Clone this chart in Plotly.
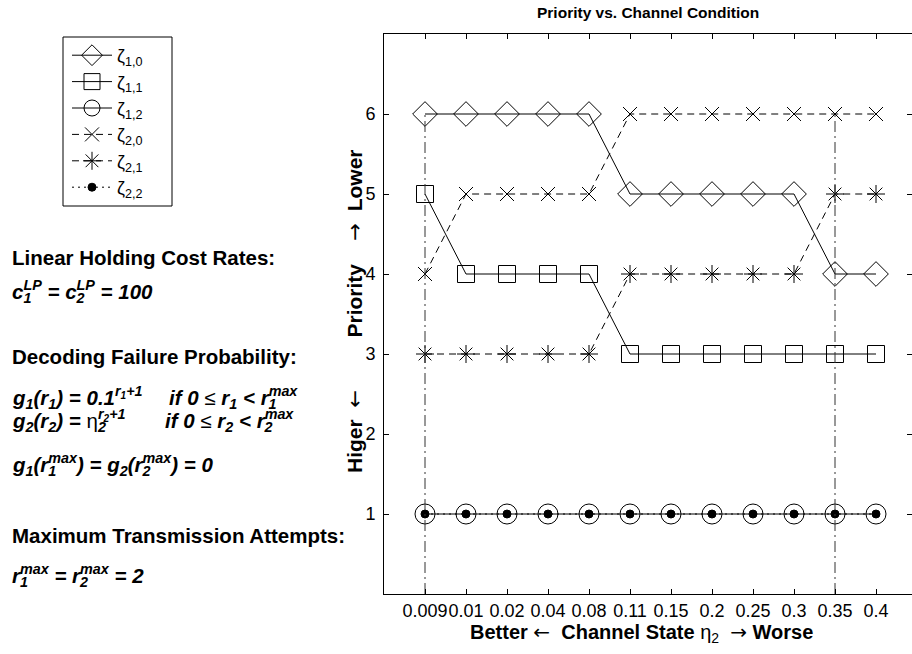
import plotly.graph_objects as go

# ---- data -------------------------------------------------------------
channel_states = ['0.009', '0.01', '0.02', '0.04', '0.08', '0.11',
                  '0.15', '0.2', '0.25', '0.3', '0.35', '0.4']

zeta_1_0 = [6, 6, 6, 6, 6, 5, 5, 5, 5, 5, 4, 4]
zeta_1_1 = [5, 4, 4, 4, 4, 3, 3, 3, 3, 3, 3, 3]
zeta_1_2 = [1, 1, 1, 1, 1, 1, 1, 1, 1, 1, 1, 1]
zeta_2_0 = [4, 5, 5, 5, 5, 6, 6, 6, 6, 6, 6, 6]
zeta_2_1 = [3, 3, 3, 3, 3, 4, 4, 4, 4, 4, 5, 5]
zeta_2_2 = [1, 1, 1, 1, 1, 1, 1, 1, 1, 1, 1, 1]

series_names = ['ζ<sub>1,0</sub>', 'ζ<sub>1,1</sub>', 'ζ<sub>1,2</sub>',
                'ζ<sub>2,0</sub>', 'ζ<sub>2,1</sub>', 'ζ<sub>2,2</sub>']

switch_states = ['0.009', '0.35']     # channel states marked by vertical lines
switch_span = [0, 6]                  # priority range covered by those lines
priority_ticks = [1, 2, 3, 4, 5, 6]

# ---- styling ----------------------------------------------------------
W, H = 912, 654
FONT = 'Liberation Sans, Arial, Helvetica, sans-serif'
DASH = '7px,5px'
NB = '\u00a0'


def px(x):
    return x / W


def py(y):
    return 1 - y / H


def stack(sub, sup, back_em=0.667):
    """Subscript with a superscript placed above it (pulled back over the subscript)."""
    return (f"<sub>{sub}</sub><span style='letter-spacing:-{back_em}em'> </span>"
            f"<sup>{sup}</sup>")


def plain(s, family=None):
    """Upright, normal-weight run (arrows, Greek letters, relations)."""
    fam = f"font-family:{family};" if family else ''
    return f"<span style='{fam}font-weight:normal;font-style:normal'>{s}</span>"


LARR = plain('←', 'DejaVu Sans')
RARR = plain('→', 'DejaVu Sans')

series = [zeta_1_0, zeta_1_1, zeta_1_2, zeta_2_0, zeta_2_1, zeta_2_2]
styles = [
    dict(symbol='diamond-open', size=19, dash='solid'),
    dict(symbol='square-open', size=17, dash='solid'),
    dict(symbol='circle-open', size=20, dash='solid'),
    dict(symbol='x-thin-open', size=14, dash=DASH),
    dict(symbol='asterisk-open', size=15, dash=DASH),
    dict(symbol='circle', size=8, dash='2px,4px'),
]

xpos = list(range(1, len(channel_states) + 1))

fig = go.Figure()

for name, vals, st in zip(series_names, series, styles):
    fig.add_trace(go.Scatter(
        x=xpos, y=vals, name=name, mode='lines+markers',
        line=dict(color='black', width=1, dash=st['dash']),
        marker=dict(symbol=st['symbol'], size=st['size'], color='black',
                    line=dict(color='black', width=1)),
    ))

# dash-dot markers at the switching channel states
for state in switch_states:
    k = channel_states.index(state) + 1
    fig.add_trace(go.Scatter(
        x=[k, k], y=switch_span, mode='lines', showlegend=False, yaxis='y2',
        line=dict(color='#333333', width=1, dash='11px,4px,2px,4px'),
        hoverinfo='skip',
    ))

x_end = (W - 384) / 41.0

fig.update_layout(
    width=W, height=H,
    margin=dict(l=0, r=0, t=0, b=0),
    paper_bgcolor='white', plot_bgcolor='white',
    font=dict(family=FONT, size=18, color='black'),
    xaxis=dict(domain=[px(384), 1], range=[0, x_end],
               tickmode='array', tickvals=xpos, ticktext=channel_states,
               tickangle=0,
               ticks='inside', ticklen=5, tickcolor='black', tickwidth=1,
               showline=True, linecolor='black', linewidth=1, mirror='ticks',
               showgrid=False, zeroline=False, tickfont=dict(size=18)),
    yaxis=dict(domain=[py(594), py(34)], range=[0, 7],
               tickmode='array', tickvals=priority_ticks,
               ticks='inside', ticklen=5, tickcolor='black', tickwidth=1,
               ticklabelstandoff=4,
               showline=True, linecolor='black', linewidth=1, mirror=False,
               showgrid=False, zeroline=False, tickfont=dict(size=18)),
    yaxis2=dict(overlaying='y', anchor='x', side='right', range=[0, 7],
                tickmode='array', tickvals=priority_ticks,
                ticks='inside', ticklen=5, tickcolor='black', tickwidth=1,
                showticklabels=False, showline=False, showgrid=False,
                zeroline=False),
    legend=dict(x=px(67), y=py(37), xanchor='left', yanchor='top',
                borderwidth=0, bgcolor='rgba(0,0,0,0)',
                font=dict(size=18, family=FONT), itemwidth=40,
                tracegroupgap=0),
    shapes=[dict(type='rect', xref='paper', yref='paper',
                 x0=px(63), x1=px(172), y0=py(206), y1=py(37),
                 line=dict(color='black', width=1), fillcolor='rgba(0,0,0,0)',
                 layer='below')],
)

annotations = []


def note(text, x, y, size=20.5, xanchor='left', angle=0):
    annotations.append(dict(
        text=text, x=px(x), y=py(y), xref='paper', yref='paper',
        xanchor=xanchor, yanchor='middle', showarrow=False, textangle=angle,
        font=dict(family=FONT, size=size, color='black'),
    ))


# title and axis labels
note('<b>Priority vs. Channel Condition</b>', 648, 13, size=15.5, xanchor='center')
note('<b>Better</b>' + NB + LARR + NB * 2 + '<b>Channel State</b> ' + plain('η')
     + '<sub>2</sub>' + NB * 2 + RARR + NB + '<b>Worse</b>',
     641, 633, size=20, xanchor='center')
note('<b>Higer</b>' + NB * 2 + LARR + NB * 9 + '<b>Priority</b>' + NB * 4 + RARR
     + NB * 2 + '<b>Lower</b>', 355, 312, size=21, xanchor='center', angle=-90)

# model parameters
eta = plain('η')
leq = plain('≤')
FS = 20.5

note('<b>Linear Holding Cost Rates:</b>', 10, 257)
note('<b><i>c' + stack('1', 'LP') + ' = c' + stack('2', 'LP') + ' = 100</i></b>',
     10, 291, size=FS)
note('<b>Decoding Failure Probability:</b>', 10, 357)
note('<b><i>g<sub>1</sub>(r<sub>1</sub>) = 0.1<sup>r<sub>1</sub>+1</sup></i></b>',
     10, 397, size=FS)
note('<b><i>if 0 ' + leq + ' r<sub>1</sub> &lt; r' + stack('1', 'max') + '</i></b>',
     167, 397, size=FS)
note('<b><i>g<sub>2</sub>(r<sub>2</sub>) = ' + eta + stack('2', 'r<sub>2</sub>+1') + '</i></b>',
     10, 420, size=FS)
note('<b><i>if 0 ' + leq + ' r<sub>2</sub> &lt; r' + stack('2', 'max') + '</i></b>',
     163, 420, size=FS)
note('<b><i>g<sub>1</sub>(r' + stack('1', 'max') + ') = g<sub>2</sub>(r'
     + stack('2', 'max') + ') = 0</i></b>', 10, 465, size=FS)
note('<b>Maximum Transmission Attempts:</b>', 10, 535)
note('<b><i>r' + stack('1', 'max') + ' = r' + stack('2', 'max') + ' = 2</i></b>',
     10, 575, size=FS)

fig.update_layout(annotations=annotations)

fig.write_html('out.html')
